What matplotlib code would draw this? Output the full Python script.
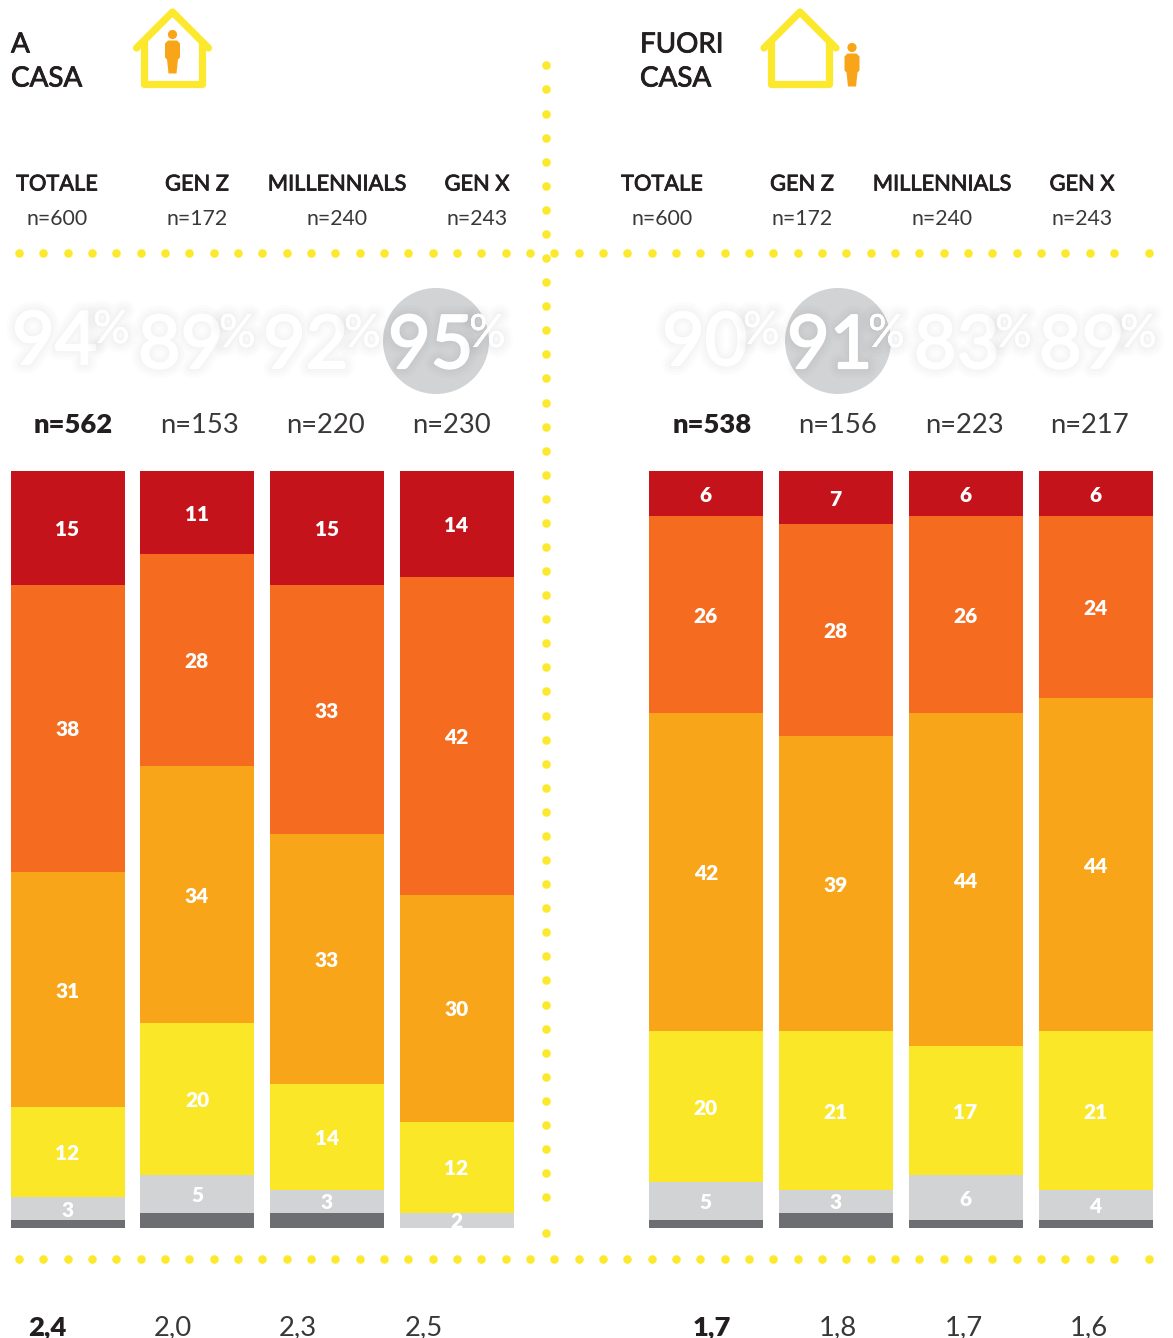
import matplotlib
matplotlib.use("Agg")
import matplotlib.pyplot as plt
import matplotlib.patheffects as pe
from matplotlib.patches import Ellipse, Polygon, Circle

plt.rcParams['font.family'] = ['Lato', 'DejaVu Sans']

W, H = 1173, 1338

# stacked from the bottom up: dark grey, grey, yellow, amber, orange, red
home_dark = [1, 2, 2, 0]
home_grey = [3, 5, 3, 2]
home_yellow = [12, 20, 14, 12]
home_amber = [31, 34, 33, 30]
home_orange = [38, 28, 33, 42]
home_red = [15, 11, 15, 14]

out_dark = [1, 2, 1, 1]
out_grey = [5, 3, 6, 4]
out_yellow = [20, 21, 17, 21]
out_amber = [42, 39, 44, 44]
out_orange = [26, 28, 26, 24]
out_red = [6, 7, 6, 6]

groups = ["TOTALE", "GEN Z", "MILLENNIALS", "GEN X"]
group_n = ["n=600", "n=172", "n=240", "n=243"]
home_pct = ["94", "89", "92", "95"]
out_pct = ["90", "91", "83", "89"]
home_n = ["n=562", "n=153", "n=220", "n=230"]
out_n = ["n=538", "n=156", "n=223", "n=217"]
home_avg = ["2,4", "2,0", "2,3", "2,5"]
out_avg = ["1,7", "1,8", "1,7", "1,6"]

colors = ["#6d6e71", "#d1d3d4", "#fae828", "#f9a51a", "#f56c20", "#c4131a"]
YEL = "#fce92d"
ORG = "#f9a51a"
INK = "#231f20"

fig = plt.figure(figsize=(W / 100, H / 100), dpi=100)


def bar_axes(left, right, stacks):
    # left/right are pixel edges of the whole bar group
    ax = fig.add_axes([left / W, 1 - 1227.7 / H, (right - left) / W, 756.7 / H])
    xs = range(4)
    bottom = [0, 0, 0, 0]
    for i, vals in enumerate(stacks):
        bars = ax.bar(xs, vals, width=0.88, bottom=bottom, color=colors[i])
        if i > 0:
            labels = ax.bar_label(bars, label_type="center", color="white", fontsize=15,
                                  fontweight="heavy")
            for t in labels:
                t.xyann = (-0.3, -1.2)
        bottom = [b + v for b, v in zip(bottom, vals)]
    ax.set_xlim(-0.44, 3.44)
    ax.set_ylim(0, 100)
    ax.axis("off")


bar_axes(10.7, 513.7, [home_dark, home_grey, home_yellow, home_amber, home_orange, home_red])
bar_axes(649, 1153, [out_dark, out_grey, out_yellow, out_amber, out_orange, out_red])

# everything else sits on a pixel overlay
ov = fig.add_axes([0, 0, 1, 1], zorder=5)
ov.set_xlim(0, W)
ov.set_ylim(H, 0)
ov.axis("off")
ov.patch.set_alpha(0)

# dotted rules
xdots = [19 + 24.33 * i for i in range(46)] + [1149]
ov.scatter(xdots, [252.7] * len(xdots), s=38, color=YEL, linewidths=0)
ov.scatter(xdots, [1258.7] * len(xdots), s=38, color=YEL, linewidths=0)
ydots = [65.4 + 24.08 * i for i in range(48)] + [1232.5]
ov.scatter([545.7] * len(ydots), ydots, s=38, color=YEL, linewidths=0)


def house(cx, bottom):
    ov.plot([cx - 36, cx, cx + 36], [48, 12, 48], color=YEL, lw=5.2,
            solid_capstyle="round", solid_joinstyle="round")
    ov.plot([cx - 29, cx - 29, cx + 29, cx + 29], [42, bottom, bottom, 42], color=YEL, lw=5.2,
            solid_capstyle="round", solid_joinstyle="round")


def person(cx, top):
    ov.add_patch(Circle((cx, top), 4.6, color=ORG, lw=0))
    body = [(-4.5, 6), (4.5, 6), (7.5, 9), (7.5, 23), (5.5, 25), (4, 39), (-4, 39),
            (-5.5, 25), (-7.5, 23), (-7.5, 9)]
    ov.add_patch(Polygon([(cx + a, top + b) for a, b in body], closed=True, color=ORG, lw=0))


house(172.5, 84)
person(172.5, 34.5)
house(800, 84)
person(852, 47.5)

# Lato has no medium weight here, so a hairline stroke thickens the regular cut
thick = [pe.withStroke(linewidth=0.6, foreground=INK)]

for x, lines in [(11, ["A", "CASA"]), (640, ["FUORI", "CASA"])]:
    ov.text(x, 52.5, lines[0], fontsize=20, color=INK, va="baseline", path_effects=thick)
    ov.text(x, 86.5, lines[1], fontsize=20, color=INK, va="baseline", path_effects=thick)

for xs in ([57, 197, 337, 477], [662, 802, 942, 1082]):
    for x, g, n in zip(xs, groups, group_n):
        ov.text(x, 190.5, g, ha="center", va="baseline", fontsize=15.7, color=INK, path_effects=thick)
        ov.text(x, 225, n, ha="center", va="baseline", fontsize=15.3, color="#3a3738")

# highlighted circles behind the big percentages
ov.add_patch(Ellipse((436, 341), 106, 106, color="#d1d3d4", lw=0))
ov.add_patch(Ellipse((838, 341), 106, 106, color="#d1d3d4", lw=0))

soft = [pe.withStroke(linewidth=w, foreground="#000000", alpha=0.012) for w in (14, 10, 6, 3)]
fat = [pe.withStroke(linewidth=1.6, foreground="white")]


def big_pct(x, base, label):
    t = ov.text(x, base, label, fontsize=53, color="white", ha="left", va="baseline")
    t.set_path_effects(soft + fat)
    t2 = ov.text(x + 81, base - 21, "%", fontsize=33, color="white", ha="left", va="baseline")
    t2.set_path_effects(soft + [pe.Normal()])


for x, base, lab in zip([12, 138, 263, 388], [364, 368, 368, 368], home_pct):
    big_pct(x, base, lab)
for x, base, lab in zip([662, 787, 914, 1039], [365, 368, 368, 368], out_pct):
    big_pct(x, base, lab)

row_l = [73, 199, 325, 451]
row_r = [712, 838, 964, 1089]
row_avg_l = [47, 173, 298, 424]
for xs, ns in ((row_l, home_n), (row_r, out_n)):
    for i, (x, n) in enumerate(zip(xs, ns)):
        ov.text(x, 433, n, ha="center", va="baseline", fontsize=19.7, color=INK if i == 0 else "#3a3738",
                fontweight="heavy" if i == 0 else "normal")
for xs, vals in ((row_avg_l, home_avg), (row_r, out_avg)):
    for i, (x, v) in enumerate(zip(xs, vals)):
        ov.text(x, 1335.5, v, ha="center", va="baseline", fontsize=19.7, color=INK if i == 0 else "#3a3738",
                fontweight="heavy" if i == 0 else "normal")

fig.savefig("out.png", dpi=100)
